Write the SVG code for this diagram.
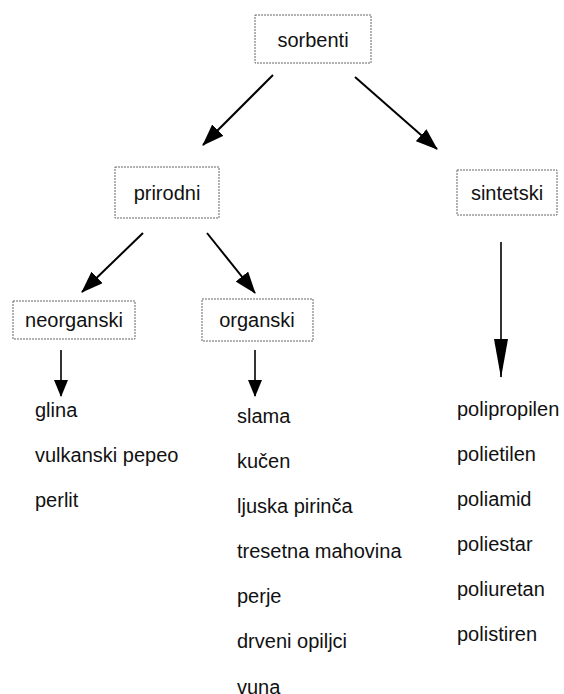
<svg xmlns="http://www.w3.org/2000/svg" width="564" height="694" viewBox="0 0 564 694">
<defs>
<style>
.box{fill:#fff;stroke:#666;stroke-width:1;stroke-dasharray:2 1}
.lbl{font-family:"Liberation Sans",Arial,sans-serif;font-size:20px;fill:#111;text-anchor:middle}
.item{font-family:"Liberation Sans",Arial,sans-serif;font-size:20px;fill:#111}
.conn{stroke:#000;fill:none}
</style>
<marker id="ah" viewBox="0 0 22 16" refX="21" refY="8" markerWidth="22" markerHeight="16" markerUnits="userSpaceOnUse" orient="auto"><path d="M0,0 L22,8 L0,16 z" fill="#000"/></marker>
<marker id="ahs" viewBox="0 0 17 14" refX="16" refY="7" markerWidth="17" markerHeight="14" markerUnits="userSpaceOnUse" orient="auto"><path d="M0,0 L17,7 L0,14 z" fill="#000"/></marker>
<marker id="ahl" viewBox="0 0 39 14" refX="38" refY="7" markerWidth="39" markerHeight="14" markerUnits="userSpaceOnUse" orient="auto"><path d="M0,0 L39,7 L0,14 z" fill="#000"/></marker>
</defs>
<rect width="564" height="694" fill="#fff"/>
<g id="connectors">
<line class="conn" x1="273" y1="75" x2="203" y2="145" stroke-width="2" marker-end="url(#ah)"/>
<line class="conn" x1="355" y1="77" x2="437" y2="149" stroke-width="2" marker-end="url(#ah)"/>
<line class="conn" x1="143" y1="233" x2="82" y2="292" stroke-width="2" marker-end="url(#ah)"/>
<line class="conn" x1="207" y1="233" x2="255" y2="293" stroke-width="2" marker-end="url(#ah)"/>
<line class="conn" x1="61" y1="350" x2="61" y2="396" stroke-width="1.6" marker-end="url(#ahs)"/>
<line class="conn" x1="255" y1="350" x2="255" y2="396" stroke-width="1.6" marker-end="url(#ahs)"/>
<line class="conn" x1="501" y1="242" x2="501" y2="377" stroke-width="1.6" marker-end="url(#ahl)"/>
</g>
<g id="sorbenti"><rect class="box" x="255" y="15" width="116" height="48"/><text class="lbl" x="313" y="47" font-size="22">sorbenti</text></g>
<g id="prirodni"><rect class="box" x="115" y="167" width="104" height="51"/><text class="lbl" x="167" y="200">prirodni</text></g>
<g id="sintetski"><rect class="box" x="457" y="170" width="100" height="45"/><text class="lbl" x="507" y="200">sintetski</text></g>
<g id="neorganski"><rect class="box" x="13" y="301" width="122" height="38"/><text class="lbl" x="74" y="327">neorganski</text></g>
<g id="organski"><rect class="box" x="202" y="299" width="111" height="42"/><text class="lbl" x="257" y="327">organski</text></g>
<g id="list-neorganski">
<text class="item" x="35" y="417">glina</text>
<text class="item" x="35" y="462">vulkanski pepeo</text>
<text class="item" x="35" y="507">perlit</text>
</g>
<g id="list-organski">
<text class="item" x="237" y="423">slama</text>
<text class="item" x="237" y="468">kučen</text>
<text class="item" x="237" y="513">ljuska pirinča</text>
<text class="item" x="237" y="558">tresetna mahovina</text>
<text class="item" x="237" y="603">perje</text>
<text class="item" x="237" y="648">drveni opiljci</text>
<text class="item" x="237" y="694">vuna</text>
</g>
<g id="list-sintetski">
<text class="item" x="457" y="416">polipropilen</text>
<text class="item" x="457" y="461">polietilen</text>
<text class="item" x="457" y="506">poliamid</text>
<text class="item" x="457" y="551">poliestar</text>
<text class="item" x="457" y="596">poliuretan</text>
<text class="item" x="457" y="641">polistiren</text>
</g>
</svg>
